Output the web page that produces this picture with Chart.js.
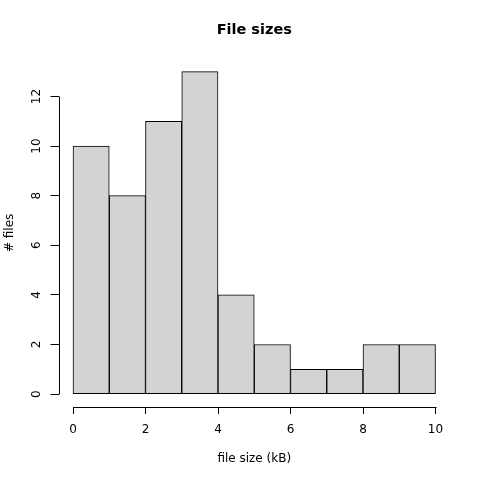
<!DOCTYPE html>
<html><head><meta charset="utf-8">
<script src="https://cdn.jsdelivr.net/npm/chart.js@4"></script>
<style>html,body{margin:0;padding:0;background:#fff}canvas{display:block}</style>
</head><body>
<canvas id="c" width="480" height="480"></canvas>
<script>
const binEdges = [0,1,2,3,4,5,6,7,8,9,10];
const counts = [10,8,11,13,4,2,1,1,2,2];
const xTicks = [0,2,4,6,8,10];
const yTicks = [0,2,4,6,8,10,12];
const titleText = 'File sizes';
const xLabel = 'file size (kB)';
const yLabel = '# files';

const points = counts.map((c,i)=>({x:(binEdges[i]+binEdges[i+1])/2, y:c}));
const FONT = 'DejaVu Sans';

const axesPlugin = {
  id:'rAxes',
  afterLayout(chart){
    const tb = chart.titleBlock, ca = chart.chartArea;
    if (tb) { tb.left = ca.left; tb.right = ca.right; }
  },
  afterDraw(chart){
    const ctx = chart.ctx, xs = chart.scales.x, ys = chart.scales.y, ca = chart.chartArea;
    ctx.save();
    ctx.strokeStyle='#000'; ctx.lineWidth=1;
    const by = Math.round(ca.bottom)+0.5;
    ctx.beginPath();
    ctx.moveTo(Math.round(xs.getPixelForValue(xTicks[0]))+0.5, by);
    ctx.lineTo(Math.round(xs.getPixelForValue(xTicks[xTicks.length-1]))+0.5, by);
    ctx.stroke();
    const lx = Math.round(ca.left)+0.5;
    ctx.beginPath();
    ctx.moveTo(lx, Math.round(ys.getPixelForValue(yTicks[0]))+0.5);
    ctx.lineTo(lx, Math.round(ys.getPixelForValue(yTicks[yTicks.length-1]))+0.5);
    ctx.stroke();
    ctx.fillStyle='#000';
    ctx.font = '12px "'+FONT+'"';
    ctx.textAlign='center'; ctx.textBaseline='middle';
    yTicks.forEach(v=>{
      const py = ys.getPixelForValue(v);
      ctx.save();
      ctx.translate(37, py);
      ctx.rotate(-Math.PI/2);
      ctx.fillText(String(v),0,0);
      ctx.restore();
    });
    ctx.restore();
  }
};

new Chart(document.getElementById('c'),{
  type:'bar',
  data:{datasets:[{data:points, backgroundColor:'#d3d3d3', borderColor:'#000', borderWidth:1, borderSkipped:false, barPercentage:1, categoryPercentage:1}]},
  options:{
    responsive:false, animation:false, devicePixelRatio:1,
    layout:{padding:{left:0,right:30,top:0,bottom:0}},
    plugins:{
      legend:{display:false}, tooltip:{enabled:false},
      title:{display:true, text:titleText, color:'#000', font:{family:FONT,size:14.5,weight:'bold'}, padding:{top:22,bottom:19.4}}
    },
    scales:{
      x:{type:'linear', min:-0.4, max:10.4, offset:false,
        afterBuildTicks:s=>{s.ticks = xTicks.map(v=>({value:v}));},
        afterFit:s=>{s.height=73;},
        grid:{display:true, offset:false, drawOnChartArea:false, drawTicks:true, tickLength:7, color:'#000', lineWidth:1},
        border:{display:false},
        ticks:{color:'#000', font:{family:FONT,size:12}, padding:9, maxRotation:0, autoSkip:false, callback:v=>String(v)},
        title:{display:true, text:xLabel, color:'#000', font:{family:FONT,size:12}, padding:{top:0,bottom:14}}
      },
      y:{type:'linear', min:-0.52, max:13.52,
        afterBuildTicks:s=>{s.ticks = yTicks.map(v=>({value:v}));},
        afterFit:s=>{s.width=58.5;},
        grid:{display:true, drawOnChartArea:false, drawTicks:true, tickLength:8, color:'#000', lineWidth:1},
        border:{display:false},
        ticks:{display:false},
        title:{display:true, text:yLabel, color:'#000', font:{family:FONT,size:12}, padding:{top:3,bottom:0}}
      }
    }
  },
  plugins:[axesPlugin]
});
</script>
</body></html>
